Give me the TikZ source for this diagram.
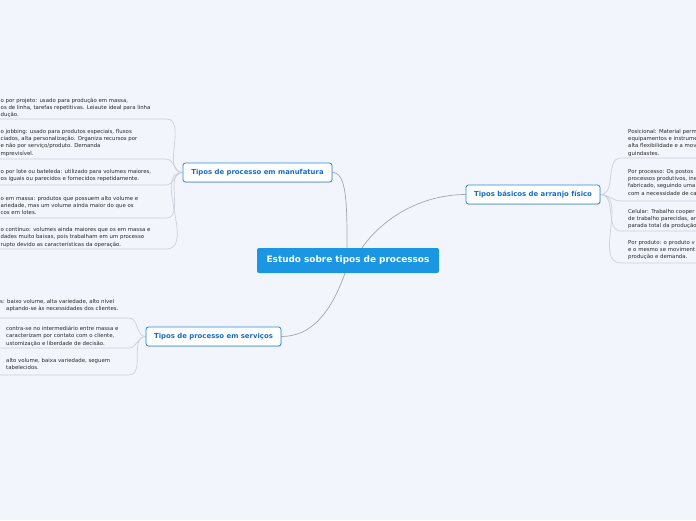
\documentclass[tikz,border=0pt]{standalone}
\usepackage{fontspec}
\setmainfont{DejaVu Sans}
\usetikzlibrary{shadows}
\definecolor{bgcol}{RGB}{243,245,253}
\definecolor{mainblue}{RGB}{27,150,227}
\definecolor{brdblue}{RGB}{38,138,220}
\definecolor{txtblue}{RGB}{22,110,200}
\definecolor{conncol}{RGB}{165,165,172}
\definecolor{ulinecol}{RGB}{205,207,218}
\definecolor{leaftxt}{RGB}{40,40,40}
\pgfdeclarelayer{bgfill}
\pgfdeclarelayer{edges}
\pgfsetlayers{bgfill,edges,main}
\begin{document}
\begin{tikzpicture}[x=1pt,y=-1pt,
 central/.style={fill=mainblue, rounded corners=2pt, text=white, font=\fontsize{8.9}{10}\selectfont\bfseries, minimum width=182pt, minimum height=25pt, inner sep=0pt},
 branch/.style={draw=brdblue, line width=0.8pt, fill=white, rounded corners=2.5pt, text=txtblue, font=\fontsize{6.9}{8}\selectfont\bfseries, minimum height=19pt, inner sep=0pt, drop shadow={opacity=0.25, shadow xshift=0.6pt, shadow yshift=-0.8pt}},
 leaf/.style={anchor=north west, inner sep=0pt, align=left, text=leaftxt, font=\fontsize{5.4}{7.3}\selectfont},
 mainconn/.style={draw=conncol, line width=0.7pt},
 subconn/.style={draw=ulinecol, line width=0.7pt}
]
\useasboundingbox (0,0) rectangle (696,520);
\begin{pgfonlayer}{bgfill}
\fill[bgcol] (0,0) rectangle (696,520);
\end{pgfonlayer}
\clip (0,0) rectangle (696,520);

% main nodes
\node[central] (C) at (348,260.5) {Estudo sobre tipos de processos};
\node[branch, minimum width=149pt] (M) at (257.5,172.5) {Tipos de processo em manufatura};
\node[branch, minimum width=135pt] (S) at (213.5,336.5) {Tipos de processo em serviços};
\node[branch, minimum width=134pt] (A) at (533,194.5) {Tipos básicos de arranjo físico};

% leaf texts: manufatura
\node[leaf] (m1) at (0.5,98) {o por projeto: usado para produção em massa,\\os de linha, tarefas repetitivas. Leiaute ideal para linha\\dução.};
\node[leaf] (m2) at (0.5,129) {o jobbing: usado para produtos especiais, fluxos\\ciados, alta personalização. Organiza recursos por\\e não por serviço/produto. Demanda\\mprevisível.};
\node[leaf] (m3) at (0.5,169) {o por lote ou bateleda: utilizado para volumes maiores,\\os iguais ou parecidos e fornecidos repetidamente.};
\node[leaf] (m4) at (0.5,196) {o em massa: produtos que possuem alto volume e\\ariedade, mas um volume ainda maior do que os\\cos em lotes.};
\node[leaf] (m5) at (0.5,227) {o contínuo: volumes ainda maiores que os em massa e\\dades muito baixas, pois trabalham em um processo\\rupto devido as características da operação.};

% leaf texts: servicos
\node[leaf] (s1) at (6,299) {\hspace*{-6pt}s: baixo volume, alta variedade, alto nível\\aptando-se às necessidades dos clientes.};
\node[leaf] (s2) at (6,326) {contra-se no intermediário entre massa e\\caracterizam por contato com o cliente,\\ustomização e liberdade de decisão.};
\node[leaf] (s3) at (6,358) {alto volume, baixa variedade, seguem\\tabelecidos.};

% leaf texts: arranjo
\node[leaf] (a1) at (628,129) {Posicional: Material perm\\equipamentos e instrume\\alta flexibilidade e a mov\\guindastes.};
\node[leaf] (a2) at (628,169) {Por processo: Os postos\\processos produtivos, ine\\fabricado, seguindo uma\\com a necessidade de ca};
\node[leaf] (a3) at (628,209) {Celular: Trabalho cooper\\de trabalho parecidas, an\\parada total da produção};
\node[leaf] (a4) at (628,240) {Por produto: o produto v\\e o mesmo se moviment\\produção e demanda.};

% underline end points
\coordinate (um1) at (166,119); \coordinate (um1l) at (0,119);
\coordinate (um2) at (166,159); \coordinate (um2l) at (0,159);
\coordinate (um3) at (166,185); \coordinate (um3l) at (0,185);
\coordinate (um4) at (166,218); \coordinate (um4l) at (0,218);
\coordinate (um5) at (166,249); \coordinate (um5l) at (0,249);
\coordinate (us1) at (129,318); \coordinate (us1l) at (0,318);
\coordinate (us2) at (129,348); \coordinate (us2l) at (0,348);
\coordinate (us3) at (129,375); \coordinate (us3l) at (0,375);
\coordinate (ua1) at (621,158); \coordinate (ua1r) at (696,158);
\coordinate (ua2) at (621,201); \coordinate (ua2r) at (696,201);
\coordinate (ua3) at (621,231); \coordinate (ua3r) at (696,231);
\coordinate (ua4) at (621,263); \coordinate (ua4r) at (696,263);

\begin{pgfonlayer}{edges}
\draw[mainconn] ([xshift=-1pt]C.north) .. controls (347,205) and (347,172.5) .. (M.east);
\draw[mainconn] ([xshift=14pt]C.north) .. controls (385,215) and (425,194.5) .. (A.west);
\draw[mainconn] ([xshift=-3pt]C.south) .. controls (330,315) and (310,336.5) .. (S.east);
\foreach \i in {1,...,5} {\draw[subconn] (M.west) to[out=180,in=0] (um\i) -- (um\i l);}
\foreach \i in {1,2,3} {\draw[subconn] (S.west) to[out=180,in=0] (us\i) -- (us\i l);}
\foreach \i in {1,...,4} {\draw[subconn] (A.east) to[out=0,in=180] (ua\i) -- (ua\i r);}
\end{pgfonlayer}
\end{tikzpicture}
\end{document}
